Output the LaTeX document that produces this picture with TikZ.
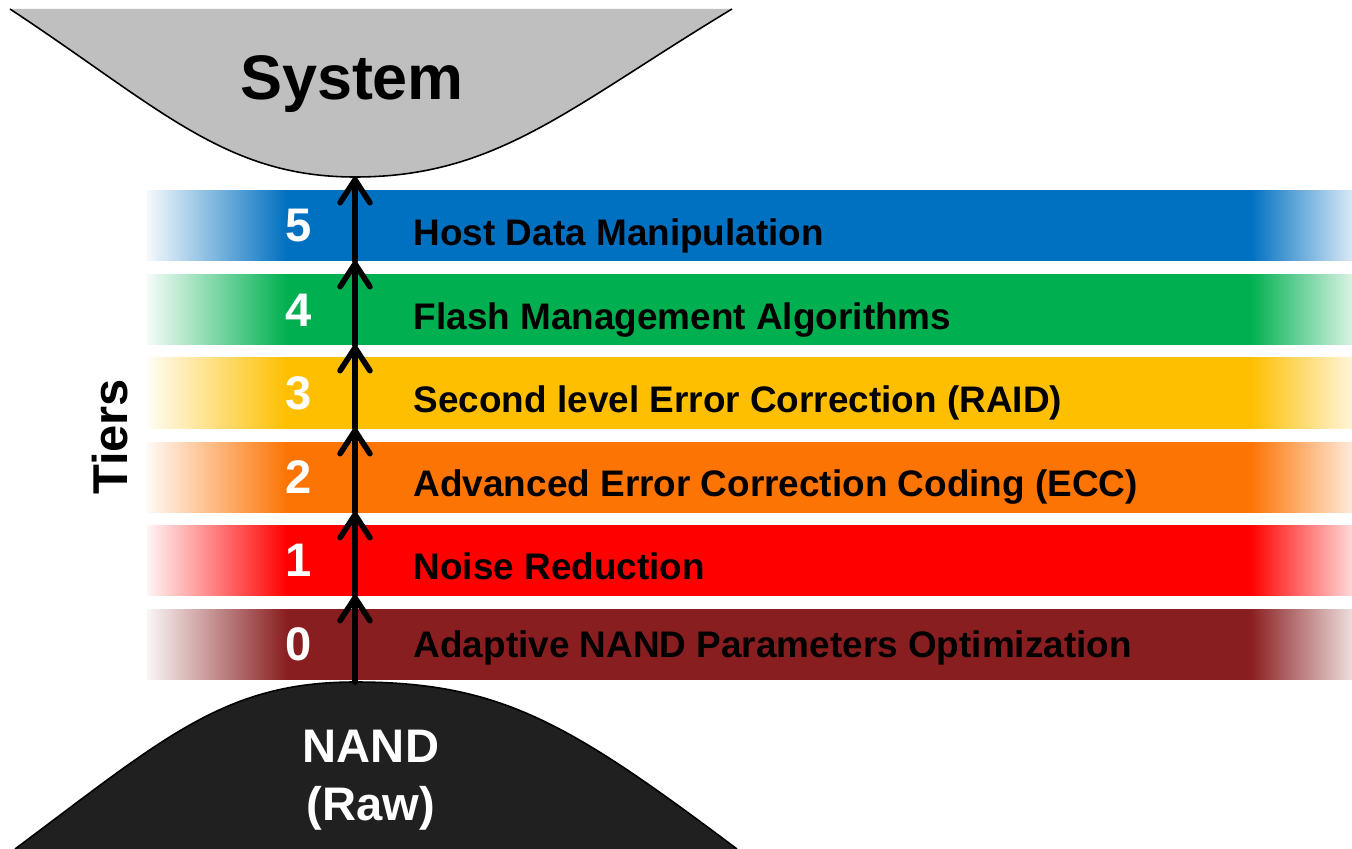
\documentclass[tikz,border=0pt]{standalone}
\usepackage{fontspec}
\setmainfont{Liberation Sans}
\usetikzlibrary{arrows.meta}

\definecolor{sysgray}{RGB}{191,191,191}
\definecolor{nandblack}{RGB}{32,32,32}
\definecolor{tierfive}{RGB}{0,112,192}
\definecolor{tierfour}{RGB}{0,176,80}
\definecolor{tierthree}{RGB}{254,191,0}
\definecolor{tiertwo}{RGB}{252,116,4}
\definecolor{tierone}{RGB}{255,0,0}
\definecolor{tierzero}{RGB}{137,30,32}

% One band shading: pale left end, solid middle, pale right end.
% The middle 25bp..75bp of the shading spans the band from x=147 to x=1352.
\colorlet{tiercol}{tierfive}
\colorlet{tierleft}{tierfive!4}
\colorlet{tierright}{tierfive!15}
\pgfdeclarehorizontalshading[tiercol,tierleft,tierright]{bandfade}{100bp}{%
  color(0bp)=(tierleft); color(25bp)=(tierleft);
  color(30.81bp)=(tiercol); color(70.77bp)=(tiercol);
  color(75bp)=(tierright); color(100bp)=(tierright)}

\begin{document}
\begin{tikzpicture}[x=0.01cm,y=-0.01cm,
  tiernum/.style={text=white,inner sep=0pt,font=\fontsize{13.4}{16}\selectfont\bfseries},
  tierlabel/.style={anchor=base west,inner sep=0pt,font=\fontsize{10.5}{12.6}\selectfont\bfseries},
  flow/.style={line width=1.6pt,line cap=round,
    -{Straight Barb[length=6.5pt,width=8.5pt,round]}},
  outline/.style={draw=black,line width=0.45pt}]
\useasboundingbox (0,0) rectangle (1352,849);

% System bowl at the top
\fill[sysgray] (10,9) .. controls (160,108) and (225,177) .. (355,177)
  .. controls (497,177) and (568,108) .. (732,9) -- cycle;
\draw[outline] (10,9) .. controls (160,108) and (225,177) .. (355,177)
  .. controls (497,177) and (568,108) .. (732,9);
\coordinate (sysbot) at (355,177);
\node[anchor=base,inner sep=0pt,font=\fontsize{17.9}{21}\selectfont\bfseries]
  (system) at (352,100) {System};

% NAND hill at the bottom
\fill[nandblack] (15,849) .. controls (165,737) and (225,682) .. (355,682)
  .. controls (501,682) and (569,723) .. (737,849) -- cycle;
\draw[outline] (15,849) .. controls (165,737) and (225,682) .. (355,682)
  .. controls (501,682) and (569,723) .. (737,849);
\coordinate (nandtop) at (355,682);
\node[anchor=base,inner sep=0pt,text=white,font=\fontsize{13.4}{16}\selectfont\bfseries]
  (nand) at (371,762) {NAND};
\node[anchor=base,inner sep=0pt,text=white,font=\fontsize{13.4}{16}\selectfont\bfseries]
  (raw) at (371,820) {(Raw)};

% Tier bands with faded ends
\foreach \n/\col/\yt/\dy/\txt in {
  5/tierfive/191/19.5/{Host Data Manipulation},
  4/tierfour/275/19.5/{Flash Management Algorithms},
  3/tierthree/358/19.5/{Second level Error Correction (RAID)},
  2/tiertwo/442/19.5/{Advanced Error Correction Coding (ECC)},
  1/tierone/525/19.5/{Noise Reduction},
  0/tierzero/609/13.5/{Adaptive NAND Parameters Optimization}} {
  \colorlet{tiercol}{\col}
  \colorlet{tierleft}{\col!4}
  \colorlet{tierright}{\col!15}
  \shade[shading=bandfade] (147,\yt) rectangle (1352,\yt+70);
  \coordinate (b\n) at (355,\yt+70);
  \node[tiernum] (num\n) at (299,\yt+35) {\n};
  \node[tierlabel] (lbl\n) at (413,\yt+35+\dy) {\txt};
}

% Upward flow through the tiers
\draw[flow] (nandtop) -- (b1);
\draw[flow] (b1) -- (b2);
\draw[flow] (b2) -- (b3);
\draw[flow] (b3) -- (b4);
\draw[flow] (b4) -- (b5);
\draw[flow] (b5) -- (sysbot);

% Side caption
\node[rotate=90,inner sep=0pt,font=\fontsize{13.9}{16}\selectfont\bfseries]
  (tiers) at (110,437) {Tiers};
\end{tikzpicture}
\end{document}
